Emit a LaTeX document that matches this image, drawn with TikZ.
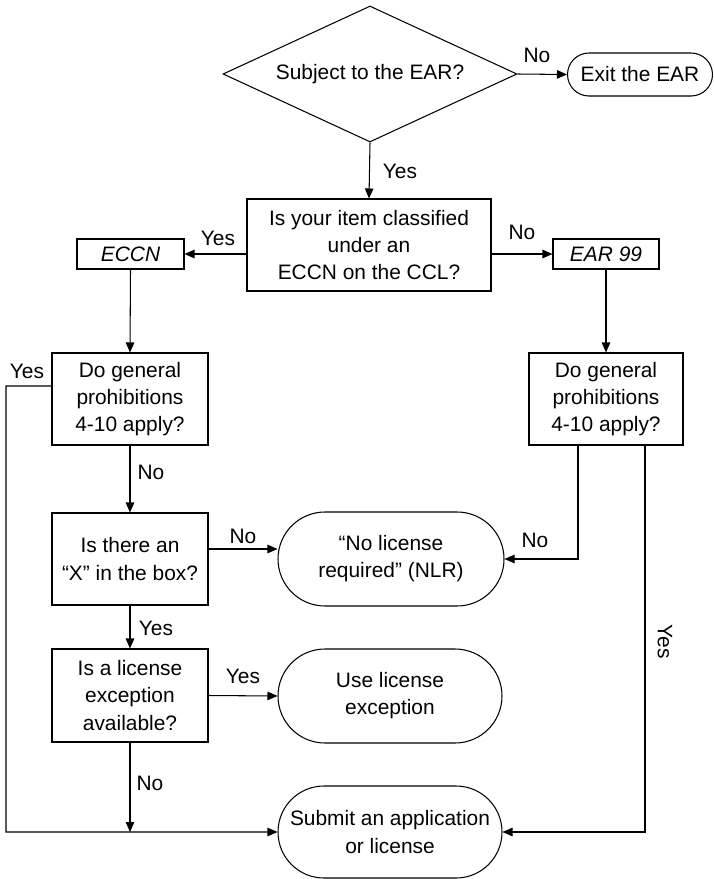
\documentclass[tikz,border=0pt]{standalone}
\usepackage{fontspec}
\setmainfont{Liberation Sans}
\usetikzlibrary{shapes.geometric,shapes.misc,arrows.meta}

\begin{document}
\begin{tikzpicture}[
    line width=0.6pt,
    every node/.style={font=\fontsize{11.9}{15.4}\selectfont},
    decision/.style={draw, diamond, aspect=2.16, inner sep=0pt, minimum width=5.88cm, minimum height=2.72cm}, % Style for the first question
    box/.style={draw, rectangle, align=center, inner sep=0pt},
    term/.style={draw, rounded rectangle, align=center, inner sep=0pt},
    lbl/.style={inner sep=1pt},
    arr/.style={-{Triangle[length=2mm,width=1.7mm]}}
]

% Page frame
\useasboundingbox (0,0) rectangle (14.26,-17.58);

% Top question and exit
\node[decision] (subj) at (7.40,-1.48) {Subject to the EAR?};
\node[term, minimum width=2.90cm, minimum height=0.86cm] (exit) at (12.80,-1.49) {Exit the EAR};

% Classification
\node[box, minimum width=4.88cm, minimum height=1.84cm] (class) at (7.38,-4.90)
    {Is your item classified\\under an\\ECCN on the CCL?};
\node[box, minimum width=2.14cm, minimum height=0.60cm] (eccn) at (2.61,-5.08) {\itshape ECCN};
\node[box, minimum width=2.12cm, minimum height=0.60cm] (ear) at (12.12,-5.08) {\itshape EAR 99};

% General prohibitions
\node[box, minimum width=3.12cm, minimum height=1.84cm] (gpleft) at (2.60,-7.98)
    {Do general\\prohibitions\\4-10 apply?};
\node[box, minimum width=3.08cm, minimum height=1.84cm] (gpright) at (12.12,-7.98)
    {Do general\\prohibitions\\4-10 apply?};

% Left column questions
\node[box, minimum width=3.12cm, minimum height=1.84cm] (xbox) at (2.60,-11.18)
    {Is there an\\“X” in the box?};
\node[box, minimum width=3.12cm, minimum height=1.86cm] (lexc) at (2.60,-13.91)
    {Is a license\\exception\\available?};

% Outcomes
\node[term, minimum width=4.52cm, minimum height=1.88cm] (nlr) at (7.82,-11.18)
    {“No license\\required” (NLR)};
\node[term, minimum width=4.48cm, minimum height=1.88cm] (use) at (7.80,-13.92)
    {Use license\\exception};
\node[term, minimum width=4.48cm, minimum height=1.84cm] (submit) at (7.80,-16.64)
    {Submit an application\\or license};

% Connectors
\draw[arr] (subj.east) -- (exit.west);
\draw[arr] (subj.south) -- (class.north);
\draw[arr] (eccn.east -| class.west) -- (eccn.east);
\draw[arr] (ear.west -| class.east) -- (ear.west);
\draw[arr] (eccn.south) -- (gpleft.north);
\draw[arr] (ear.south) -- (gpright.north);
\draw[arr] (gpleft.south) -- (xbox.north);
\draw[arr] ([yshift=2mm]xbox.east) -- ([yshift=2mm]nlr.west);
\draw[arr] (xbox.south) -- (lexc.north);
\draw[arr] (lexc.east) -- (use.west);
\draw[arr] (lexc.south) -- (lexc.south |- submit.west);
\coordinate (loop) at (0.12,-7.72);
\draw[arr] ([yshift=2.6mm]gpleft.west) -- (loop) |- (submit.west);
\draw[arr] ([xshift=-5.6mm]gpright.south) |- (nlr.east);
\draw[arr] ([xshift=7.8mm]gpright.south) |- (submit.east);

% Branch labels
\node[lbl] (nosubj) at (10.74,-1.10) {No};
\node[lbl] (yessubj) at (8.00,-3.42) {Yes};
\node[lbl] (yesclass) at (4.36,-4.76) {Yes};
\node[lbl] (noclass) at (10.44,-4.64) {No};
\node[lbl] (yesgpl) at (0.54,-7.42) {Yes};
\node[lbl] (nogpl) at (3.02,-9.44) {No};
\node[lbl] (noxbox) at (4.86,-10.72) {No};
\node[lbl] (nogpr) at (10.70,-10.80) {No};
\node[lbl] (yesxbox) at (3.12,-12.56) {Yes};
\node[lbl] (yeslexc) at (4.86,-13.52) {Yes};
\node[lbl] (nolexc) at (3.00,-15.66) {No};
\node[lbl, rotate=-90] (yesgpr) at (13.30,-12.84) {Yes};

\end{tikzpicture}
\end{document}
